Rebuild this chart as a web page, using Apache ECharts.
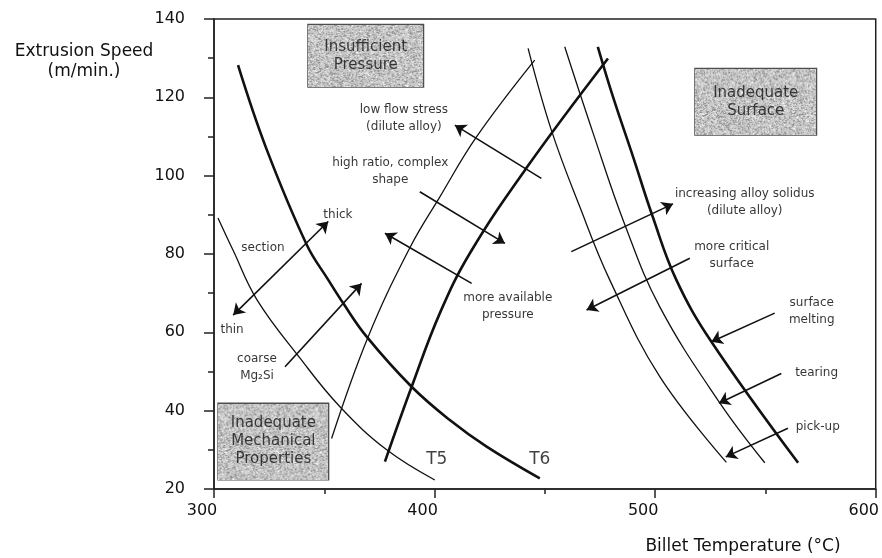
<!DOCTYPE html>
<html>
<head>
<meta charset="utf-8">
<script src="https://cdn.jsdelivr.net/npm/echarts@6/dist/echarts.min.js"></script>
<style>
  html, body { margin: 0; padding: 0; background: #fff; }
  #chart { width: 882px; height: 558px; }
</style>
</head>
<body>
<div id="chart"></div>
<script>
// Process-limit curves (billet temperature °C, extrusion speed m/min)
const t6Curve = [[310.9,128.2],[323.6,107.1],[342.1,82.3],[351.8,73.4],[358.6,67.4],[369.2,58.9],[389.6,46.1],[406.9,37.6],[423.6,30.8],[447.7,22.7]];
const t5Curve = [[301.8,89.2],[308.6,81.0],[319.5,68.3],[339.0,53.4],[357.1,41.0],[378.3,30.0],[400.1,22.3]];
const pressureDilute = [[353.3,32.9],[369.9,58.9],[388.8,81.6],[402.4,94.6],[419.0,109.9],[445.4,129.5]];
const pressureLimit = [[377.5,27.0],[389.6,46.1],[402.4,64.9],[416.0,80.2],[441.7,102.0],[478.6,129.9]];
const pickUpCurve = [[442.4,132.5],[452.9,111.7],[465.8,92.1],[479.4,73.4],[502.1,48.7],[532.3,26.8]];
const tearingCurve = [[459.0,132.9],[471.9,110.8],[486.3,87.4],[502.1,66.5],[529.3,42.0],[549.7,26.7]];
const meltingCurve = [[474.0,132.9],[480.9,120.1],[490.0,104.8],[498.9,89.5],[509.6,73.4],[525.5,57.6],[564.8,26.7]];

// Trend arrows: [tail, head]
const singleArrows = [
  [[332.2,51.2],[366.9,72.5]],   // coarse Mg2Si
  [[448.4,99.3],[409.2,112.9]],  // low flow stress
  [[393.3,95.9],[431.9,82.7]],   // high ratio, complex shape
  [[416.8,72.5],[377.5,85.3]],   // more available pressure
  [[462.0,80.6],[508.1,92.8]],   // increasing alloy solidus
  [[515.7,78.9],[468.9,65.7]],   // more critical surface
  [[554.2,64.9],[525.5,57.6]],   // surface melting
  [[557.2,49.5],[528.9,41.9]],   // tearing
  [[560.2,35.5],[532.0,28.2]]    // pick-up
];
const doubleArrows = [
  [[308.7,64.4],[351.8,88.3]]    // section thin <-> thick
];

// Annotation texts and their anchor points
const noteTexts = ['low flow stress\n(dilute alloy)', 'high ratio, complex\nshape', 'thick', 'section', 'thin',
  'coarse\nMg\u2082Si', 'more available\npressure', 'increasing alloy solidus\n(dilute alloy)', 'more critical\nsurface',
  'surface\nmelting', 'tearing', 'pick-up'];
const notePoints = [[386.1,114.7],[379.9,101.1],[356.2,90.0],[322.2,81.5],[308.2,60.6],
  [319.5,51.1],[433.2,66.7],[540.6,93.3],[534.7,79.7],
  [571.0,65.4],[573.2,49.6],[573.7,35.8]];

const curveTags = ['T5', 'T6'];
const curveTagPoints = [[401.0,27.4],[447.7,27.4]];

// Limit-region boxes
const regionTexts = ['Insufficient\nPressure', 'Inadequate\nSurface', 'Inadequate\nMechanical\nProperties'];
const regionPoints = [[368.8,130.6],[545.6,118.9],[326.9,32.1]];

const FONT = 'DejaVu Sans';

// Stippled grey fill used behind the region labels
function stipple(w, h) {
  const c = document.createElement('canvas');
  c.width = w; c.height = h;
  const g = c.getContext('2d');
  g.fillStyle = '#c9c9c9';
  g.fillRect(0, 0, w, h);
  for (let i = 0; i < w; i++) {
    for (let j = 0; j < h; j++) {
      const k = ((i * 73856093) ^ (j * 19349663) ^ (i * j * 83492791)) >>> 0;
      const v = k % 100;
      if (v < 24) { g.fillStyle = '#939393'; g.fillRect(i, j, 1, 1); }
      else if (v > 86) { g.fillStyle = '#efefef'; g.fillRect(i, j, 1, 1); }
    }
  }
  return c;
}

const boxStyles = [
  { width: 83, pad: [13, 16], img: stipple(115, 62) },
  { width: 89, pad: [15, 16], img: stipple(121, 67) },
  { width: 80, pad: [11, 15], img: stipple(110, 77) }
];

function curve(data, width) {
  return {
    type: 'line', data: data, smooth: 0.4,
    showSymbol: false, symbol: 'none', silent: true,
    lineStyle: { color: '#111', width: width }
  };
}

const plainLabel = { textBorderWidth: 0, textShadowBlur: 0 };

const chart = echarts.init(document.getElementById('chart'), null, { renderer: 'canvas' });

chart.setOption({
  animation: false,
  backgroundColor: '#fff',
  textStyle: { fontFamily: FONT },
  grid: { left: 214, right: 6, top: 19, bottom: 69, show: true, borderColor: '#222', borderWidth: 1.5 },
  xAxis: {
    type: 'value', min: 300, max: 600, interval: 100,
    axisLine: { show: true, lineStyle: { color: '#222', width: 1.5 } },
    axisTick: { show: true, length: 9, lineStyle: { color: '#222', width: 1.5 } },
    minorTick: { show: true, splitNumber: 2, length: 5, lineStyle: { color: '#222', width: 1.5 } },
    splitLine: { show: false },
    axisLabel: { color: '#111', fontSize: 16, fontFamily: FONT, margin: 14, padding: [0, 24, 0, 0] }
  },
  yAxis: {
    type: 'value', min: 20, max: 140, interval: 20,
    axisLine: { show: true, lineStyle: { color: '#222', width: 1.5 } },
    axisTick: { show: true, length: 10, lineStyle: { color: '#222', width: 1.5 } },
    minorTick: { show: true, splitNumber: 2, length: 6, lineStyle: { color: '#222', width: 1.5 } },
    splitLine: { show: false },
    axisLabel: { color: '#111', fontSize: 16, fontFamily: FONT, margin: 29 }
  },
  graphic: [
    { type: 'text', x: 84, y: 42, style: { text: 'Extrusion Speed\n(m/min.)', textAlign: 'center', fill: '#111', font: '17px "DejaVu Sans"', lineHeight: 20 } },
    { type: 'text', x: 743, y: 538, style: { text: 'Billet Temperature (°C)', textAlign: 'center', fill: '#111', font: '17px "DejaVu Sans"' } }
  ],
  series: [
    curve(t6Curve, 2.6),
    curve(t5Curve, 1.3),
    curve(pressureDilute, 1.3),
    curve(pressureLimit, 2.6),
    curve(pickUpCurve, 1.3),
    curve(tearingCurve, 1.3),
    curve(meltingCurve, 2.6),
    {
      type: 'lines', coordinateSystem: 'cartesian2d', silent: true,
      symbol: ['none', 'arrow'], symbolSize: 11,
      lineStyle: { color: '#111', width: 1.6, opacity: 1 },
      data: singleArrows.map(a => ({ coords: a }))
    },
    {
      type: 'lines', coordinateSystem: 'cartesian2d', silent: true,
      symbol: ['arrow', 'arrow'], symbolSize: 11,
      lineStyle: { color: '#111', width: 1.6, opacity: 1 },
      data: doubleArrows.map(a => ({ coords: a }))
    },
    {
      type: 'scatter', symbolSize: 0, silent: true, z: 5,
      data: notePoints.map((p, i) => ({ value: p, name: noteTexts[i] })),
      label: Object.assign({
        show: true, position: 'inside', formatter: '{b}', align: 'center', verticalAlign: 'middle',
        color: '#000', fontSize: 12, fontFamily: FONT, lineHeight: 17
      }, plainLabel)
    },
    {
      type: 'scatter', symbolSize: 0, silent: true, z: 5,
      data: curveTagPoints.map((p, i) => ({ value: p, name: curveTags[i] })),
      label: Object.assign({
        show: true, position: 'inside', formatter: '{b}', align: 'center', verticalAlign: 'middle',
        color: '#111', fontSize: 17, fontFamily: FONT
      }, plainLabel)
    },
    {
      type: 'scatter', symbolSize: 0, silent: true, z: 6,
      data: regionPoints.map((p, i) => ({
        value: p, name: regionTexts[i],
        label: {
          width: boxStyles[i].width, padding: boxStyles[i].pad,
          backgroundColor: { image: boxStyles[i].img }
        }
      })),
      label: Object.assign({
        show: true, position: 'inside', formatter: '{b}', align: 'center', verticalAlign: 'middle',
        color: '#111', fontSize: 15, fontFamily: FONT, lineHeight: 18,
        borderColor: '#222', borderWidth: 2
      }, plainLabel)
    }
  ]
});
</script>
</body>
</html>
